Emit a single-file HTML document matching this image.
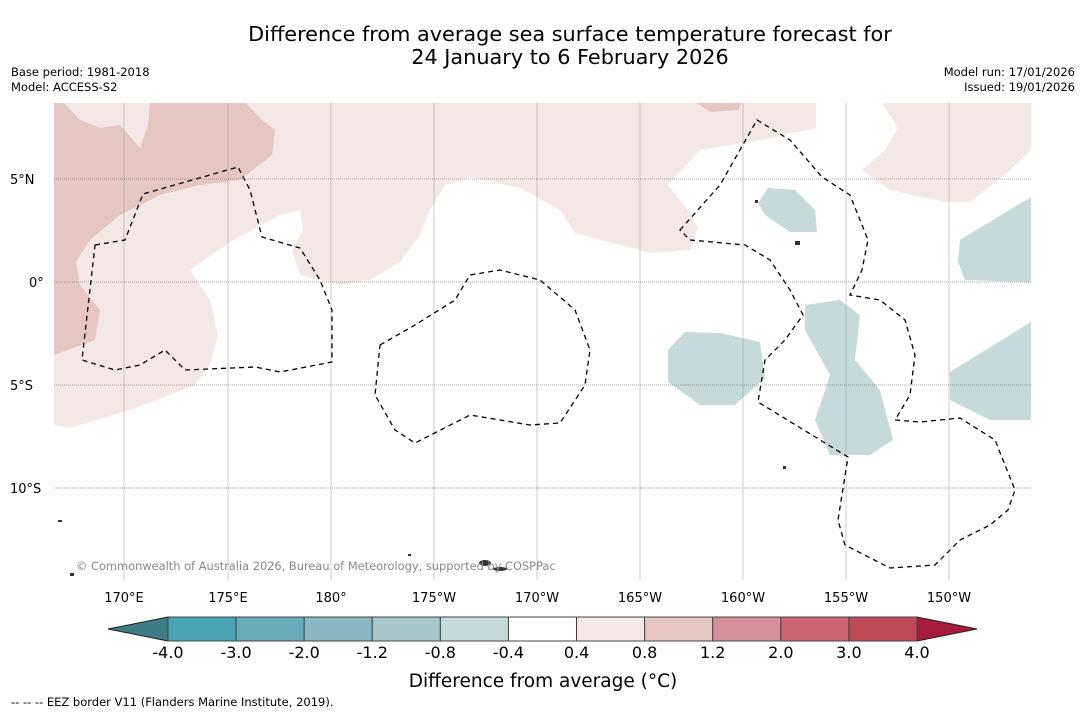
<!DOCTYPE html>
<html><head><meta charset="utf-8"><style>
body{margin:0;background:#fff;width:1085px;height:713px;overflow:hidden;font-family:"DejaVu Sans","Liberation Sans",sans-serif}
</style></head><body>
<svg id="s" width="1085" height="713" xmlns="http://www.w3.org/2000/svg">
<text x="570" y="41" text-anchor="middle" font-size="20.8">Difference from average sea surface temperature forecast for</text>
<text x="570" y="64" text-anchor="middle" font-size="20.8">24 January to 6 February 2026</text>
<text x="11" y="76" font-size="11.5">Base period: 1981-2018</text>
<text x="11" y="91" font-size="11.5">Model: ACCESS-S2</text>
<text x="1075" y="76" font-size="11.5" text-anchor="end">Model run: 17/01/2026</text>
<text x="1075" y="91" font-size="11.5" text-anchor="end">Issued: 19/01/2026</text>
<g id="map">
<clipPath id="c"><rect x="54" y="103" width="977" height="477"/></clipPath>
<g clip-path="url(#c)">
<path fill="#f4e8e6" d="M54,103 L816,103 L816,128 L760,140 L700,150 L668,185 L688,210 L698,228 L690,250 L650,253 L575,233 L560,210 L520,188 L470,177 L445,185 L430,210 L420,235 L400,262 L370,280 L340,285 L300,275 L292,250 L303,230 L300,210 L280,215 L230,242 L190,270 L210,300 L218,335 L210,365 L195,385 L130,410 L70,428 L54,425 Z"/>
<path fill="#e6c6c1" d="M54,103 L246,103 L262,120 L275,130 L272,155 L240,180 L200,185 L160,195 L120,215 L90,240 L76,262 L80,285 L100,310 L95,340 L54,355 Z"/>
<path fill="#f4e8e6" d="M64,103 L80,120 L100,128 L120,125 L140,148 L148,125 L150,103 Z"/>
<path fill="#e6c6c1" d="M697,103 L742,103 L738,110 L710,112 Z"/>
<path fill="#f4e8e6" d="M882,103 L898,128 L885,150 L862,170 L890,190 L945,202 L970,202 L1010,170 L1031,150 L1031,103 Z"/>
<g fill="#c6d9db">
<path d="M768,188 L795,190 L815,210 L817,232 L790,232 L765,215 L758,203 Z"/>
<path d="M960,240 L1031,197 L1031,282 L965,280 L958,262 Z"/>
<path d="M668,350 L685,332 L720,333 L760,342 L765,378 L735,405 L700,405 L668,382 Z"/>
<path d="M805,305 L840,300 L860,315 L855,360 L880,390 L893,440 L870,455 L830,455 L815,420 L830,375 L805,330 Z"/>
<path d="M950,372 L1031,322 L1031,420 L990,420 L950,400 Z"/>
</g>
<g stroke="#999" stroke-width="0.5">
<line x1="124" y1="103" x2="124" y2="580"/><line x1="228" y1="103" x2="228" y2="580"/><line x1="331" y1="103" x2="331" y2="580"/><line x1="434" y1="103" x2="434" y2="580"/><line x1="537" y1="103" x2="537" y2="580"/><line x1="640" y1="103" x2="640" y2="580"/><line x1="743" y1="103" x2="743" y2="580"/><line x1="846" y1="103" x2="846" y2="580"/><line x1="949" y1="103" x2="949" y2="580"/>
</g>
<g stroke="#555" stroke-width="0.6" stroke-dasharray="1,1">
<line x1="54" y1="179" x2="1031" y2="179"/><line x1="54" y1="282" x2="1031" y2="282"/><line x1="54" y1="385" x2="1031" y2="385"/><line x1="54" y1="488" x2="1031" y2="488"/>
</g>
<g fill="none" stroke="#000" stroke-width="1.3" stroke-dasharray="5,4">
<path d="M95,245 L125,240 L143,194 L238,167 L250,190 L262,237 L300,248 L320,280 L332,310 L332,362 L280,372 L255,367 L185,370 L165,350 L140,365 L115,370 L82,360 Z"/>
<path d="M380,345 L415,325 L455,300 L470,275 L500,270 L540,280 L575,310 L590,350 L585,385 L560,423 L530,425 L470,415 L415,443 L395,430 L375,395 Z"/>
<path d="M680,230 L720,185 L757,120 L790,140 L822,177 L850,195 L868,240 L862,270 L850,295 L880,300 L905,320 L915,355 L910,395 L895,420 L920,422 L960,418 L995,440 L1015,490 L1008,510 L990,525 L960,540 L935,565 L890,568 L845,545 L838,520 L848,457 L758,402 L765,360 L785,340 L803,315 L790,290 L770,260 L745,245 L690,240 Z"/>
</g>
<g fill="#333">
<ellipse cx="485" cy="563" rx="6" ry="3"/><ellipse cx="500" cy="569" rx="7" ry="2"/><rect x="58" y="520" width="4" height="2"/><rect x="70" y="573" width="4" height="3"/><rect x="408" y="554" width="3" height="2"/><rect x="783" y="466" width="3" height="3"/><rect x="795" y="241" width="5" height="4"/><rect x="755" y="200" width="3" height="3"/>
</g>
</g>
<text x="76" y="570" font-size="11.4" fill="#888">© Commonwealth of Australia 2026, Bureau of Meteorology, supported by COSPPac</text>
<g font-size="13">
<text x="10" y="184">5°N</text><text x="29" y="287">0°</text><text x="10" y="390">5°S</text><text x="10" y="493">10°S</text>
<g text-anchor="middle"><text x="124" y="602">170°E</text><text x="228" y="602">175°E</text><text x="331" y="602">180°</text><text x="434" y="602">175°W</text><text x="537" y="602">170°W</text><text x="640" y="602">165°W</text><text x="743" y="602">160°W</text><text x="846" y="602">155°W</text><text x="949" y="602">150°W</text></g>
</g>
</g>
<g id="cbar"></g>
<text x="543" y="687" text-anchor="middle" font-size="18.5">Difference from average (°C)</text>
<text x="11" y="706" font-size="11.5">--  --  -- EEZ border V11 (Flanders Marine Institute, 2019).</text>
</svg>
<script>
const binColors=["#4aa3b2","#68acb9","#88b6c1","#a8c7cb","#c6d9db","#ffffff","#f4e8e6","#e6c6c1","#d4909a","#c96570","#bf4a57"];
const tickLabels=["-4.0","-3.0","-2.0","-1.2","-0.8","-0.4","0.4","0.8","1.2","2.0","3.0","4.0"];
const extColors=["#3d7d86","#a51c3a"];
const ns="http://www.w3.org/2000/svg",g=document.getElementById("cbar");
const x0=168,x1=917,y0=617,h=24,w=(x1-x0)/binColors.length;
function el(t,a){const e=document.createElementNS(ns,t);for(const k in a)e.setAttribute(k,a[k]);g.appendChild(e);return e;}
let L=el("polygon",{points:`${x0},${y0} 108,${y0+h/2} ${x0},${y0+h}`,fill:extColors[0],stroke:"#222"});


let R=el("polygon",{points:`${x1},${y0} 977,${y0+h/2} ${x1},${y0+h}`,fill:extColors[1],stroke:"#222"});


binColors.forEach((c,i)=>{const r=el("rect",{x:x0+i*w,y:y0,width:w,height:h,fill:c,stroke:"#444","stroke-width":1});

});
tickLabels.forEach((t,i)=>{const tx=el("text",{x:x0+i*w,y:y0+h+17,"text-anchor":"middle","font-size":16});tx.textContent=t;

});
</script>
</body></html>
